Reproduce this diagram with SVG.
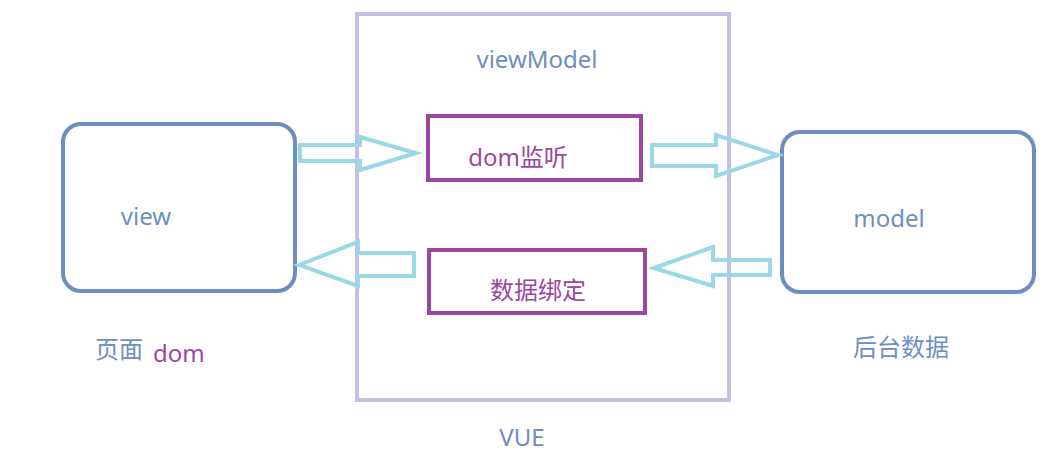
<svg xmlns="http://www.w3.org/2000/svg" width="1046" height="466" viewBox="0 0 1046 466">
<style>
text{font-family:"Noto Sans","Noto Sans CJK SC",sans-serif;font-size:24px}
.b{fill:#6d8fbf}
.p{fill:#9b479f}
.node{fill:#fff;stroke:#6d8fbf;stroke-width:4}
.inner{fill:none;stroke:#9b479f;stroke-width:4}
.arrow{fill:none;stroke:#9ad8e8;stroke-width:4;stroke-linejoin:miter}
</style>
<rect width="1046" height="466" fill="#fff"/>
<g id="vue">
<rect x="357" y="14" width="372" height="386" fill="none" stroke="#c6bfe4" stroke-width="4"/>
<text class="b" x="537" y="68" text-anchor="middle">viewModel</text>
<text class="b" x="522" y="446" text-anchor="middle">VUE</text>
</g>
<g id="view">
<rect class="node" x="63" y="124" width="232" height="167" rx="18"/>
<text class="b" x="146" y="225" text-anchor="middle">view</text>
</g>
<g id="model">
<rect class="node" x="782" y="132" width="252" height="160" rx="18"/>
<text class="b" x="889" y="227" text-anchor="middle">model</text>
</g>
<g id="dom-listen">
<rect class="inner" x="428" y="116" width="213" height="64"/>
<text class="p" x="518" y="166" text-anchor="middle">dom监听</text>
</g>
<g id="data-binding">
<rect class="inner" x="429" y="250" width="216" height="63"/>
<text class="p" x="538" y="299" text-anchor="middle">数据绑定</text>
</g>
<g id="labels">
<text class="b" x="95" y="358">页面</text>
<text class="p" x="153" y="362">dom</text>
<text class="b" x="853" y="356">后台数据</text>
</g>
<g id="connectors">
<polygon class="arrow" points="300,145 360,145 360,137 416,153 360,170 360,161 300,161"/>
<polygon class="arrow" points="299,265 358,242 358,253 414,253 414,276 358,276 358,286"/>
<polygon class="arrow" points="652,145 716,145 716,135 778,155 716,176 716,166 652,166"/>
<polygon class="arrow" points="654,268 713,247 713,260 770,260 770,275 713,275 713,286"/>
</g>
</svg>
